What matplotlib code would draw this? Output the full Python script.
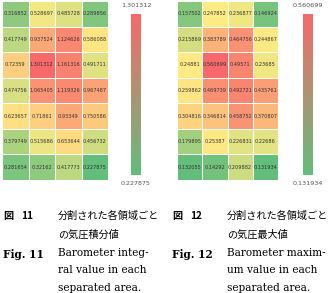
import numpy as np
import matplotlib
matplotlib.use("Agg")
import matplotlib.pyplot as plt
from matplotlib.colors import LinearSegmentedColormap, TwoSlopeNorm, Normalize

# barometer integral value per area (7 rows x 4 cols)
integ_vals = [
    [0.316852, 0.528697, 0.485728, 0.289856],
    [0.417749, 0.937524, 1.124626, 0.586088],
    [0.72359, 1.301312, 1.161316, 0.491711],
    [0.474756, 1.065405, 1.119326, 0.967487],
    [0.623657, 0.71861, 0.93349, 0.750586],
    [0.379749, 0.515686, 0.653644, 0.456732],
    [0.281654, 0.32162, 0.417773, 0.227875],
]
# barometer maximum value per area
max_vals = [
    [0.157502, 0.247852, 0.236877, 0.146924],
    [0.215869, 0.383789, 0.464756, 0.244867],
    [0.24881, 0.560699, 0.49571, 0.23685],
    [0.259862, 0.469739, 0.492721, 0.435761],
    [0.304816, 0.346814, 0.458752, 0.370807],
    [0.179895, 0.25387, 0.226831, 0.22686],
    [0.132055, 0.14292, 0.209882, 0.131934],
]

GREEN, YELLOW, RED = "#63BE7B", "#FFEB84", "#F8696B"
cell_cmap = LinearSegmentedColormap.from_list("gyr", [GREEN, YELLOW, RED])
bar_cmap = LinearSegmentedColormap.from_list("gr", [GREEN, RED])

W, H = 334, 293
fig = plt.figure(figsize=(W / 100, H / 100), dpi=100)


def px(x0, y0, x1, y1):
    return [x0 / W, 1 - y1 / H, (x1 - x0) / W, (y1 - y0) / H]


def heatmap(rect, cbar_rect, vals):
    data = np.array(vals)
    ax = fig.add_axes(rect)
    norm = TwoSlopeNorm(vcenter=np.median(data), vmin=data.min(), vmax=data.max())
    ax.pcolormesh(data, cmap=cell_cmap, norm=norm, edgecolors="white", linewidth=0.4)
    ax.set_ylim(data.shape[0], 0)
    for i in range(data.shape[0]):
        for j in range(data.shape[1]):
            ax.text(j + 0.5, i + 0.5, str(vals[i][j]), ha="center", va="center",
                    fontsize=3.6, color="#333333", family="DejaVu Sans")
    ax.set_axis_off()

    cax = fig.add_axes(cbar_rect)
    grad = np.linspace(0, 1, 256).reshape(-1, 1)
    cax.imshow(grad, cmap=bar_cmap, aspect="auto", origin="lower",
               norm=Normalize(0, 1), extent=[0, 1, 0, 1])
    cax.set_axis_off()
    cax.text(0.5, 1.04, str(data.max()), transform=cax.transAxes, ha="center",
             va="bottom", fontsize=4.6, color="#555555")
    cax.text(0.5, -0.04, str(data.min()), transform=cax.transAxes, ha="center",
             va="top", fontsize=4.6, color="#555555")


heatmap(px(2, 1, 108, 180), px(131, 14, 141, 175), integ_vals)
heatmap(px(177, 1, 278, 180), px(303, 14, 313, 175), max_vals)

jp = ["Noto Sans CJK JP", "DejaVu Sans"]
serif = "DejaVu Serif"
fs = 7.3
fs_en = 7.6


def caption(x0, num, jp1, jp2, en_lines):
    fig.text(x0 / W, 1 - 216 / H, "図", fontsize=fs, family=jp, weight="bold",
             va="center")
    fig.text((x0 + 18) / W, 1 - 216 / H, str(num), fontsize=fs, family=jp,
             weight="bold", va="center")
    fig.text((x0 + 55) / W, 1 - 216 / H, jp1, fontsize=fs, family=jp, va="center")
    fig.text((x0 + 55) / W, 1 - 235 / H, jp2, fontsize=fs, family=jp, va="center")
    fig.text(x0 / W, 1 - 254 / H, f"Fig. {num}", fontsize=fs_en, family=serif,
             weight="bold", va="center")
    for k, line in enumerate(en_lines):
        fig.text((x0 + 55) / W, 1 - (253 + 17.3 * k) / H, line, fontsize=fs_en,
                 family=serif, va="center")


caption(3, 11, "分割された各領域ごと", "の気圧積分値",
        ["Barometer integ-", "ral value in each", "separated area."])
caption(172, 12, "分割された各領域ごと", "の気圧最大値",
        ["Barometer maxim-", "um value in each", "separated area."])

fig.savefig("out.png", dpi=100)
